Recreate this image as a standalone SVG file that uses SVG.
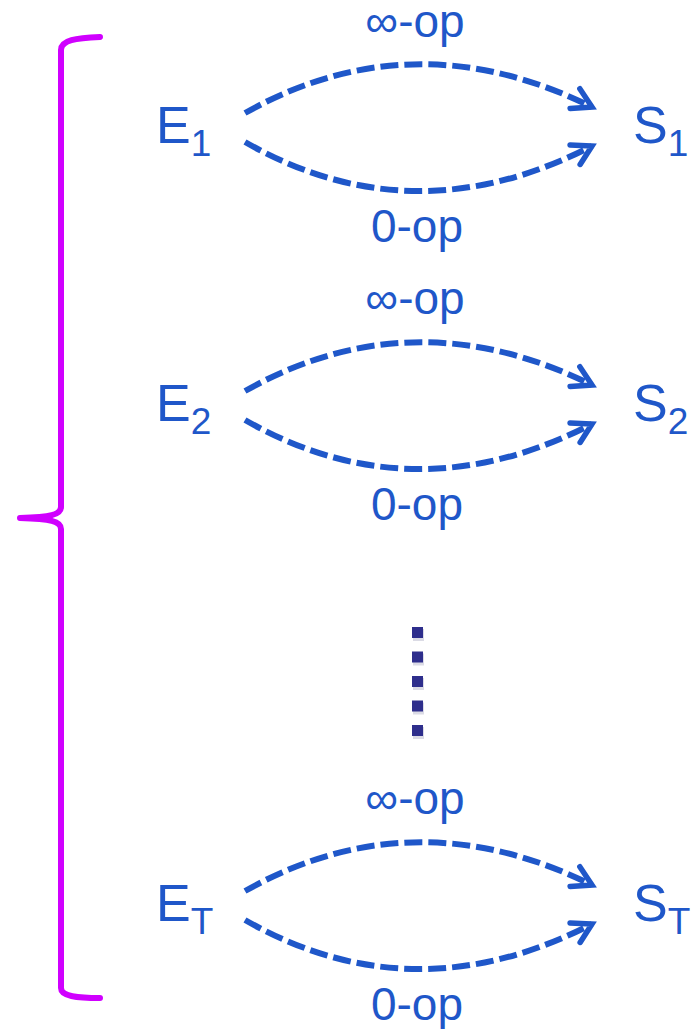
<svg xmlns="http://www.w3.org/2000/svg" width="694" height="1029" viewBox="0 0 694 1029">
<style>
.lbl{font-family:"Liberation Sans",Arial,sans-serif;fill:#1F57C9}
.node{font-size:52px}
.sub{font-size:37px}
.edge{font-size:46px;text-anchor:middle}
.conn{fill:none;stroke:#1F57C9;stroke-width:6;stroke-dasharray:18 6;marker-end:url(#arr)}
.dot{fill:#2E2E8C}
.sh{fill:#8888aa;opacity:0.3}
</style>
<defs>
<marker id="arr" markerUnits="userSpaceOnUse" markerWidth="40" markerHeight="40" refX="0" refY="0" orient="auto" overflow="visible">
<path d="M-19,-11 L0,0 L-19,11" fill="none" stroke="#1F57C9" stroke-width="5.5" stroke-linecap="round" stroke-linejoin="miter"/>
</marker>
</defs>
<rect width="694" height="1029" fill="#fff"/>
<g id="bracket">
<path d="M100,37 C76,38 61,40 61,50 L61,507 C61,515 50,517 20,518 C50,519 61,521 61,529 L61,988 C61,996 76,998 100,998" fill="none" stroke="#D000FF" stroke-width="6" stroke-linecap="round" stroke-linejoin="round"/>
</g>
<g id="E1"><text class="lbl node" x="156" y="143">E<tspan class="sub" dy="13">1</tspan></text></g>
<g id="S1"><text class="lbl node" x="633" y="143">S<tspan class="sub" dy="13">1</tspan></text></g>
<g id="E2"><text class="lbl node" x="156" y="421">E<tspan class="sub" dy="13">2</tspan></text></g>
<g id="S2"><text class="lbl node" x="633" y="421">S<tspan class="sub" dy="13">2</tspan></text></g>
<g id="ET"><text class="lbl node" x="156" y="921">E<tspan class="sub" dy="13">T</tspan></text></g>
<g id="ST"><text class="lbl node" x="633" y="921">S<tspan class="sub" dy="13">T</tspan></text></g>
<g id="connectors">
<path class="conn" d="M245,113 Q413,18.5 592,107"/>
<path class="conn" d="M245,142 Q413,238 592,146"/>
<path class="conn" d="M245,391 Q413,296.5 592,385"/>
<path class="conn" d="M245,420 Q413,516 592,424"/>
<path class="conn" d="M245,891 Q413,796.5 592,885"/>
<path class="conn" d="M245,920 Q413,1016 592,924"/>
</g>
<g id="edge-labels">
<text class="lbl edge" x="415" y="37">∞-op</text>
<text class="lbl edge" x="417" y="242">0-op</text>
<text class="lbl edge" x="415" y="314">∞-op</text>
<text class="lbl edge" x="417" y="520">0-op</text>
<text class="lbl edge" x="415" y="814">∞-op</text>
<text class="lbl edge" x="417" y="1020">0-op</text>
</g>
<g id="ellipsis">
<rect class="sh" x="413" y="629" width="11" height="12"/>
<rect class="sh" x="413" y="653.5" width="11" height="12"/>
<rect class="sh" x="413" y="678" width="11" height="12"/>
<rect class="sh" x="413" y="702.5" width="11" height="12"/>
<rect class="sh" x="413" y="727" width="11" height="12"/>
<rect class="dot" x="412" y="627" width="11" height="11"/>
<rect class="dot" x="412" y="651.5" width="11" height="11"/>
<rect class="dot" x="412" y="676" width="11" height="11"/>
<rect class="dot" x="412" y="700.5" width="11" height="11"/>
<rect class="dot" x="412" y="725" width="11" height="11"/>
</g>
</svg>
